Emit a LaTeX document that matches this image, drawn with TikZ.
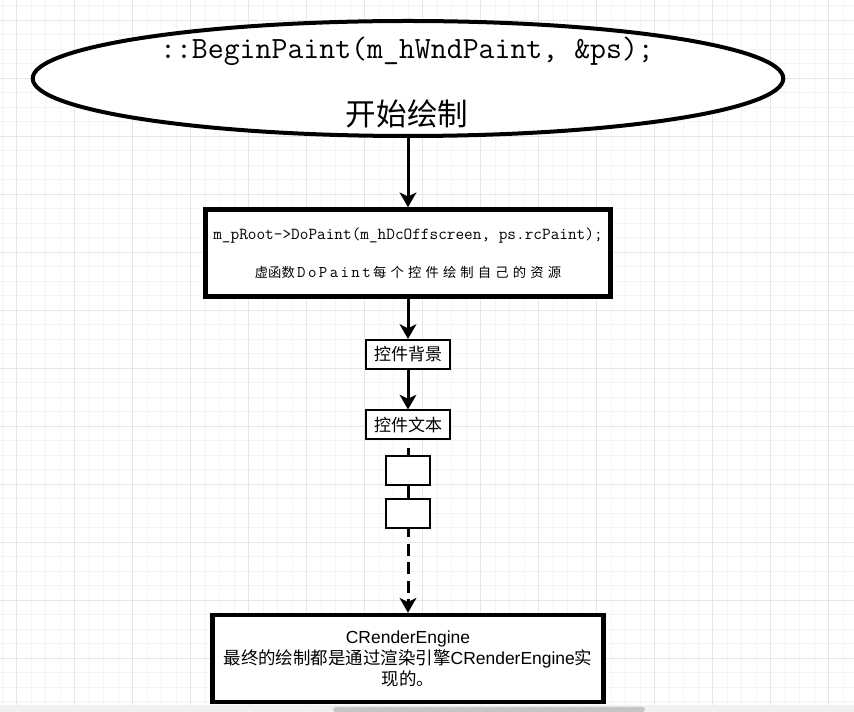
\documentclass[tikz,border=0pt]{standalone}
\usepackage{fontspec}
\setmainfont{Liberation Sans}
\newfontfamily\cjk{Noto Sans CJK SC}
\newfontfamily\cjkls[LetterSpace=31]{Noto Sans CJK SC}
\usetikzlibrary{arrows.meta,shapes.geometric}
\definecolor{gridminor}{HTML}{F4F4F4}
\definecolor{gridmajor}{HTML}{E6E6E6}
\definecolor{barband}{HTML}{F0F0F0}
\definecolor{barthumb}{HTML}{C6C6C6}
\newcommand\lsp{\kern1.8pt\relax}
\tikzset{
  bigbox/.style={draw=black, fill=white, line width=3.4pt, rectangle, inner sep=0pt,
    minimum width=#1, minimum height=65.25pt, align=center},
  smallbox/.style={draw=black, fill=white, line width=1.5pt, rectangle, inner sep=0pt,
    minimum width=63pt, minimum height=21.75pt, font=\cjk\fontsize{12.75}{14}\selectfont},
  blankbox/.style={draw=black, fill=white, line width=1.5pt, rectangle, inner sep=0pt,
    minimum width=32.5pt, minimum height=22pt},
  flow/.style={line width=2.25pt, -{Stealth[length=11pt,width=12.5pt,inset=3pt]}},
  link/.style={line width=2.25pt},
  gridthin/.style={gridminor, line width=0.75pt},
  gridthick/.style={gridmajor, line width=0.75pt}
}
\begin{document}
\begin{tikzpicture}[x=0.75pt,y=-0.75pt]
\useasboundingbox (0,0) rectangle (854,712);
\fill[white] (0,0) rectangle (854,712);
% background grid
\foreach \i in {0,...,58} \draw[gridthin] ({2.2+14.5*\i},0) -- ({2.2+14.5*\i},705);
\foreach \i in {0,...,48} \draw[gridthin] (0,{5.8+14.5*\i}) -- (854,{5.8+14.5*\i});
\foreach \i in {0,...,14} \draw[gridthick] ({16.7+58*\i},0) -- ({16.7+58*\i},705);
\foreach \i in {0,...,11} \draw[gridthick] (0,{20.3+58*\i}) -- (854,{20.3+58*\i});
% bottom scroll bar
\fill[barband] (0,705) rectangle (854,712);
\fill[barthumb, rounded corners=2pt] (333,707) rectangle (645,712);

% nodes
\node[ellipse, draw=black, fill=white, line width=3pt, inner sep=0pt,
      minimum width=562.9pt, minimum height=86.25pt] (start) at (408,78.5) {};
\node[font=\ttfamily\fontsize{23.2}{26}\selectfont] (startA) at (407,51) {::BeginPaint(m\_hWndPaint, \&ps);};
\node[font=\cjk\fontsize{22.9}{26}\selectfont] (startB) at (407,114) {开始绘制};

\node[bigbox=304.1pt, font=\fontsize{10}{28.5}\selectfont] (root) at (408,253) {%
  {\ttfamily\fontsize{12.6}{14}\selectfont m\_pRoot->DoPaint(m\_hDcOffscreen, ps.rcPaint);}\\
  {\cjk 虚函数}\lsp{\ttfamily\fontsize{12.3}{14}\selectfont D\lsp o\lsp P\lsp a\lsp i\lsp n\lsp t}\lsp{\cjkls 每个控件绘制自己的资源}};

\node[smallbox] (bg) at (408,354.5) {控件背景};
\node[smallbox] (txt) at (408,425) {控件文本};
\node[blankbox] (blankA) at (408,470.3) {};
\node[blankbox] (blankB) at (408,513.5) {};

\node[bigbox=293.6pt, font=\fontsize{13.1}{15.75}\selectfont] (engine) at (408,658.5) {%
  CRenderEngine\\
  {\cjk 最终的绘制都是通过渲染引擎}CRenderEngine{\cjk 实}\\
  {\cjk 现的。}};

% connectors
\draw[flow] (start.south) -- (root.north);
\draw[flow] (root.south) -- (bg.north);
\draw[flow] (bg.south) -- (txt.north);
\draw[link, shorten <=6pt] (txt.south) -- (blankA.north);
\draw[link] (blankA.south) -- (blankB.north);
\draw[flow, dash pattern=on 9pt off 4.9pt, dash phase=3pt] (blankB.south) -- (engine.north);
\end{tikzpicture}
\end{document}
